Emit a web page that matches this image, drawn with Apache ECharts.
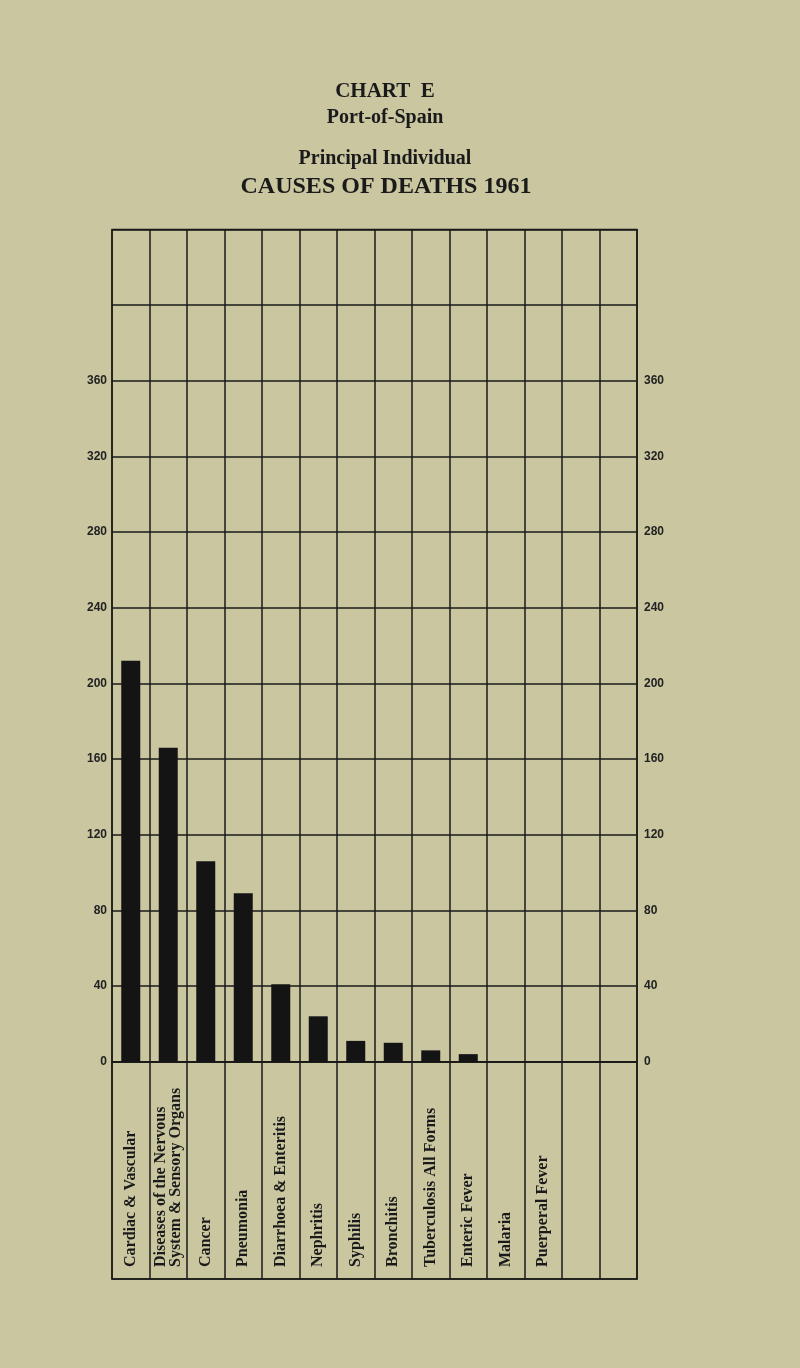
<!DOCTYPE html>
<html lang="en">
<head>
	<meta charset="UTF-8">
	<title>Chart E - Port-of-Spain</title>
	<style>
		html,body{
			margin: 0;
			padding: 0;
			background: #c9c6a0;
		}
		#main{
			width: 800px;
			height: 1368px;
		}
	</style>
</head>
<body>
	<div id="main"></div>

	<script src="https://cdn.jsdelivr.net/npm/echarts@6/dist/echarts.min.js"></script>
	<script>
		// causes of death, one column each (last two columns are empty in the original)
		var causes = [
			'Cardiac & Vascular',
			'Diseases of the Nervous\nSystem & Sensory Organs',
			'Cancer',
			'Pneumonia',
			'Diarrhoea & Enteritis',
			'Nephritis',
			'Syphilis',
			'Bronchitis',
			'Tuberculosis All Forms',
			'Enteric Fever',
			'Malaria',
			'Puerperal Fever',
			'',
			''
		];
		// number of deaths
		var deaths = [212, 166, 106, 89, 41, 24, 11, 10, 6, 4, 0, 0, null, null];

		// scale of the grid
		var yMin = 0;
		var yMax = 440;
		var yStep = 40;
		var yLastLabel = 360;

		var ink = '#1a1a1a';
		var serif = '"Liberation Serif", "DejaVu Serif", serif';
		var sans = '"Liberation Sans", Arial, sans-serif';

		function yLabel(v){
			return v > yLastLabel ? '' : v;
		}

		var myChart = echarts.init(document.getElementById('main'));
		var option = {
			backgroundColor: '#c9c6a0',
			animation: false,
			title: [
				{text: 'CHART  E', left: 380, top: 76, textAlign: 'center',
					textStyle: {fontFamily: serif, fontSize: 21, fontWeight: 'bold', color: ink}},
				{text: 'Port-of-Spain', left: 380, top: 103, textAlign: 'center',
					textStyle: {fontFamily: serif, fontSize: 20, fontWeight: 'bold', color: ink}},
				{text: 'Principal Individual', left: 380, top: 144, textAlign: 'center',
					textStyle: {fontFamily: serif, fontSize: 20, fontWeight: 'bold', color: ink}},
				{text: 'CAUSES OF DEATHS 1961', left: 381, top: 170, textAlign: 'center',
					textStyle: {fontFamily: serif, fontSize: 24, fontWeight: 'bold', color: ink}}
			],
			grid: [
				// bars
				{left: 112, right: 163, top: 229.5, bottom: 306.3,
					show: true, borderColor: ink, borderWidth: 1.5, backgroundColor: 'transparent'},
				// label boxes under the bars
				{left: 112, right: 163, top: 1061.7, bottom: 89,
					show: true, borderColor: ink, borderWidth: 1.5, backgroundColor: 'transparent'}
			],
			xAxis: [
				{
					type: 'category', gridIndex: 0, data: causes,
					axisLine: {show: true, lineStyle: {color: ink, width: 1.5}},
					axisTick: {show: false},
					axisLabel: {show: false},
					splitLine: {show: true, interval: 0, lineStyle: {color: ink, width: 1.5}}
				},
				{
					type: 'category', gridIndex: 1, data: causes, position: 'bottom',
					axisLine: {show: true, lineStyle: {color: ink, width: 1.5}},
					axisTick: {show: false},
					splitLine: {show: true, interval: 0, lineStyle: {color: ink, width: 1.5}},
					axisLabel: {
						interval: 0, inside: true, rotate: 90, margin: 12,
						fontFamily: serif, fontSize: 16, fontWeight: 'bold', color: ink,
						lineHeight: 15
					}
				}
			],
			yAxis: [
				{
					type: 'value', gridIndex: 0, min: yMin, max: yMax, interval: yStep,
					position: 'left',
					axisLine: {show: false}, axisTick: {show: false},
					axisLabel: {margin: 5, fontFamily: sans, fontSize: 12, fontWeight: 'bold', color: '#222', formatter: yLabel},
					splitLine: {show: true, lineStyle: {color: ink, width: 1.5}}
				},
				{
					type: 'value', gridIndex: 0, min: yMin, max: yMax, interval: yStep,
					position: 'right',
					axisLine: {show: false}, axisTick: {show: false},
					axisLabel: {margin: 7, fontFamily: sans, fontSize: 12, fontWeight: 'bold', color: '#222', formatter: yLabel},
					splitLine: {show: false}
				},
				{
					type: 'value', gridIndex: 1, show: false, min: 0, max: 1
				}
			],
			series: [
				{
					type: 'bar', xAxisIndex: 0, yAxisIndex: 0,
					data: deaths,
					barWidth: 19,
					itemStyle: {color: '#141414'},
					z: 3
				}
			]
		};
		myChart.setOption(option);
	</script>
</body>
</html>
